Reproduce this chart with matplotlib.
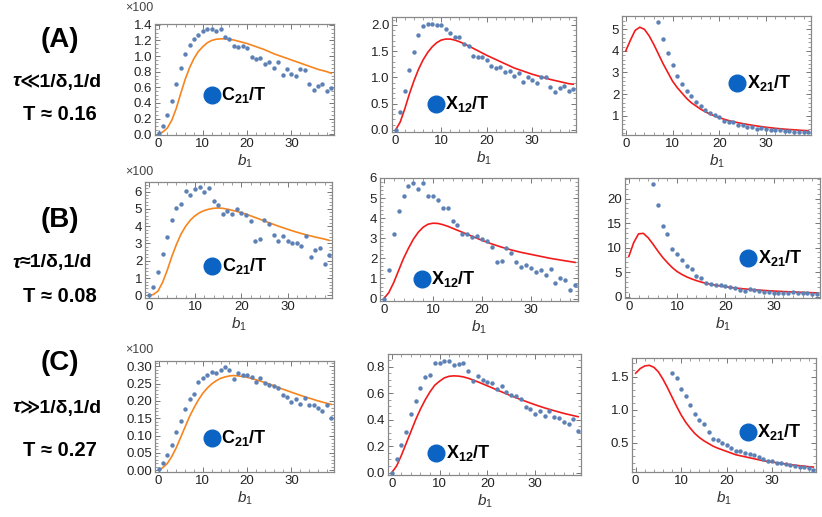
import numpy as np
import matplotlib
matplotlib.use("Agg")
import matplotlib.pyplot as plt
from matplotlib.ticker import MultipleLocator, AutoMinorLocator, FormatStrFormatter

plt.rcParams['font.family'] = ['Liberation Sans', 'DejaVu Sans']
plt.rcParams['mathtext.fontset'] = 'custom'
plt.rcParams['mathtext.rm'] = 'Liberation Sans'
plt.rcParams['mathtext.it'] = 'Liberation Sans:italic'
plt.rcParams['mathtext.bf'] = 'Liberation Sans:bold'

# ---- data ----
b1 = list(range(40))
curve_b1 = list(range(19)) + [20, 22, 24, 26, 28, 30, 32, 34, 36, 38, 39]

# row A
c21_A = [0.02, 0.11, 0.25, 0.43, 0.64, 0.85, 1.02, 1.14, 1.22, 1.27, 1.32, 1.34, 1.34, 1.32, 1.34,
         1.25, 1.22, 1.13, 1.12, 1.13, 1.10, 0.99, 0.96, 0.98, 0.90, 0.93, 0.85, 0.92, 0.76, 0.83,
         0.77, 0.74, 0.83, 0.82, 0.64, 0.56, 0.62, 0.64, 0.55, 0.59]
c21_A_fit = [0.0, 0.03, 0.08, 0.18, 0.33, 0.52, 0.70, 0.85, 0.97, 1.06, 1.12, 1.17, 1.20, 1.215, 1.22,
             1.22, 1.215, 1.205, 1.19, 1.16, 1.12, 1.08, 1.03, 0.99, 0.95, 0.91, 0.87, 0.83, 0.80, 0.78]
x12_A = [0.0, 0.34, 0.74, 1.14, 1.49, 1.80, 1.97, 2.01, 2.02, 1.99, 1.99, 1.92, 1.84, 1.77, 1.77,
         1.63, 1.59, 1.41, 1.38, 1.38, 1.33, 1.21, 1.17, 1.19, 1.10, 1.13, 1.03, 1.08, 0.92, 1.00,
         0.95, 0.90, 1.00, 1.00, 0.81, 0.72, 0.79, 0.83, 0.74, 0.77]
x12_A_fit = [0.0, 0.15, 0.40, 0.68, 0.93, 1.15, 1.33, 1.47, 1.58, 1.66, 1.71, 1.73, 1.73, 1.71, 1.68,
             1.64, 1.60, 1.555, 1.51, 1.42, 1.34, 1.26, 1.18, 1.12, 1.06, 1.01, 0.96, 0.92, 0.88, 0.87]
x21_A_b1 = list(range(7, 40))
x21_A = [5.32, 4.55, 3.89, 3.33, 2.84, 2.45, 2.16, 1.93, 1.65, 1.45, 1.25, 1.14, 1.05, 0.93, 0.77,
         0.69, 0.68, 0.58, 0.57, 0.47, 0.49, 0.38, 0.43, 0.38, 0.35, 0.35, 0.32, 0.29, 0.29, 0.26,
         0.24, 0.23, 0.24]
x21_A_fit = [4.0, 4.5, 4.95, 5.1, 5.0, 4.7, 4.3, 3.85, 3.4, 3.0, 2.6, 2.3, 2.05, 1.8, 1.6,
             1.45, 1.3, 1.18, 1.07, 0.9, 0.77, 0.67, 0.59, 0.52, 0.46, 0.41, 0.37, 0.34, 0.31, 0.30]

# row B
c21_B = [0.0, 0.46, 1.33, 2.40, 3.37, 4.35, 5.05, 5.26, 6.02, 5.78, 6.13, 6.25, 5.98, 6.19, 5.45,
         5.22, 4.68, 4.87, 4.72, 4.97, 4.76, 4.66, 4.29, 3.15, 3.25, 4.35, 4.10, 3.46, 3.13, 3.42,
         3.17, 3.02, 3.04, 2.88, 3.42, 2.22, 2.63, 2.71, 1.84, 2.34]
c21_B_fit = [0.0, 0.05, 0.25, 0.75, 1.45, 2.25, 2.95, 3.55, 4.0, 4.35, 4.6, 4.78, 4.9, 4.98, 5.03,
             5.05, 5.03, 4.98, 4.92, 4.78, 4.6, 4.4, 4.2, 4.0, 3.82, 3.65, 3.5, 3.37, 3.25, 3.18]
x12_B = [0.0, 1.40, 3.20, 4.38, 5.08, 5.60, 5.73, 5.45, 5.73, 5.12, 5.08, 4.93, 4.52, 4.52, 3.87,
         3.67, 3.20, 3.23, 3.08, 3.13, 2.97, 2.87, 2.57, 1.82, 1.85, 2.50, 2.27, 1.82, 1.57, 1.68,
         1.50, 1.33, 1.40, 1.18, 1.45, 0.80, 1.02, 0.92, 0.43, 0.67]
x12_B_fit = [0.0, 0.3, 0.8, 1.4, 2.0, 2.5, 2.95, 3.3, 3.55, 3.7, 3.75, 3.74, 3.68, 3.6, 3.5,
             3.4, 3.3, 3.2, 3.1, 2.9, 2.72, 2.56, 2.42, 2.3, 2.2, 2.1, 2.0, 1.92, 1.84, 1.8]
x21_B_b1 = list(range(5, 40))
x21_B = [23.07, 18.6, 14.47, 12.8, 9.73, 8.6, 7.53, 6.2, 5.53, 4.2, 3.73, 2.8, 2.53, 2.33, 2.33,
         2.2, 2.0, 1.73, 1.27, 1.2, 1.53, 1.4, 1.07, 0.87, 0.93, 0.73, 0.73, 0.73, 0.73, 0.93,
         0.67, 0.67, 0.73, 0.47, 0.53]
x21_B_fit = [8.2, 11.0, 12.8, 12.9, 12.0, 10.7, 9.3, 8.0, 6.9, 5.9, 5.1, 4.5, 4.0, 3.6, 3.25,
             2.95, 2.7, 2.5, 2.3, 2.0, 1.75, 1.55, 1.38, 1.24, 1.12, 1.02, 0.93, 0.85, 0.78, 0.75]

# row C
c21_C = [0.003, 0.021, 0.045, 0.072, 0.110, 0.142, 0.176, 0.205, 0.221, 0.255, 0.266, 0.276, 0.282,
         0.281, 0.289, 0.298, 0.288, 0.263, 0.279, 0.274, 0.274, 0.269, 0.255, 0.267, 0.253, 0.247,
         0.242, 0.238, 0.218, 0.210, 0.197, 0.206, 0.190, 0.207, 0.188, 0.189, 0.180, 0.170, 0.189,
         0.150]
c21_C_fit = [0.0, 0.008, 0.02, 0.04, 0.065, 0.095, 0.125, 0.155, 0.18, 0.203, 0.222, 0.237, 0.249,
             0.258, 0.265, 0.269, 0.272, 0.273, 0.272, 0.268, 0.261, 0.253, 0.244, 0.234, 0.225,
             0.216, 0.208, 0.2, 0.193, 0.19]
x12_C = [0.0, 0.10, 0.21, 0.31, 0.44, 0.54, 0.64, 0.72, 0.74, 0.825, 0.83, 0.845, 0.84, 0.81, 0.82,
         0.825, 0.77, 0.69, 0.727, 0.70, 0.687, 0.674, 0.631, 0.657, 0.611, 0.584, 0.579, 0.559,
         0.498, 0.478, 0.443, 0.468, 0.43, 0.465, 0.418, 0.415, 0.385, 0.367, 0.408, 0.314]
x12_C_fit = [0.0, 0.05, 0.13, 0.22, 0.31, 0.4, 0.48, 0.55, 0.61, 0.66, 0.69, 0.715, 0.727, 0.73,
             0.728, 0.722, 0.712, 0.699, 0.685, 0.655, 0.624, 0.594, 0.565, 0.538, 0.512, 0.488,
             0.467, 0.447, 0.43, 0.422]
x21_C_b1 = list(range(8, 40))
x21_C = [1.55, 1.485, 1.31, 1.2, 1.07, 0.93, 0.85, 0.79, 0.66, 0.56, 0.55, 0.50, 0.46, 0.42, 0.38,
         0.38, 0.35, 0.33, 0.31, 0.29, 0.26, 0.23, 0.22, 0.20, 0.20, 0.18, 0.17, 0.15, 0.14, 0.13,
         0.12, 0.09]
x21_C_fit = [1.55, 1.62, 1.66, 1.67, 1.64, 1.57, 1.46, 1.33, 1.19, 1.05, 0.92, 0.81, 0.72, 0.64,
             0.58, 0.53, 0.49, 0.45, 0.42, 0.37, 0.32, 0.29, 0.26, 0.23, 0.21, 0.19, 0.17, 0.155,
             0.14, 0.135]

row_labels = ["(A)", "(B)", "(C)"]
regime_rel = ["≪1/δ,1/d", "≈1/δ,1/d", "≫1/δ,1/d"]
temps = ["T ≈ 0.16", "T ≈ 0.08", "T ≈ 0.27"]

DOT = "#5E81B5"
ORANGE = "#F7851E"
RED = "#F21B1B"
BIG = "#0B63C4"

W, H = 822, 517
fig = plt.figure(figsize=(W / 100, H / 100), dpi=100)


def panel(box, xs, ys, fx, fy, fcolor, ylim, ymaj, fmt, name, lpos, scale_y=None):
    x0, x1, yt, yb = box
    ax = fig.add_axes([x0 / W, 1 - yb / H, (x1 - x0) / W, (yb - yt) / H])
    ax.plot(fx, fy, color=fcolor, lw=1.2, zorder=2)
    ax.plot(xs, ys, 'o', color=DOT, ms=3.2, mec='none', zorder=3)
    ax.set_xlim(-0.8, 39.6)
    ax.set_ylim(*ylim)
    ax.xaxis.set_major_locator(MultipleLocator(10))
    ax.xaxis.set_minor_locator(MultipleLocator(2))
    ax.yaxis.set_major_locator(MultipleLocator(ymaj))
    ax.yaxis.set_minor_locator(AutoMinorLocator())
    ax.yaxis.set_major_formatter(FormatStrFormatter(fmt))
    ax.tick_params(which='both', direction='in', top=True, right=True, colors='#777777',
                   labelcolor='#222222', labelsize=9.5, pad=2)
    ax.tick_params(which='major', length=3.5, width=0.7)
    ax.tick_params(which='minor', length=2, width=0.5)
    for s in ax.spines.values():
        s.set_color('#888888')
        s.set_linewidth(0.9)
    ax.set_xlabel(r"$b_1$", fontsize=11, color='#333333', labelpad=2)
    ax.plot([lpos[0]], [lpos[1]], 'o', color=BIG, ms=12, transform=ax.transAxes,
            clip_on=False, zorder=4)
    ax.text(lpos[0] + 0.05, lpos[1], name, transform=ax.transAxes, fontsize=13,
            va='center', ha='left', color='black', zorder=4)
    if scale_y is not None:
        fig.text(153 / W, 1 - scale_y / H, "×100", fontsize=9, color='#444444',
                 ha='right', va='center')
    return ax


# row A
panel((155, 334, 24, 135), b1, c21_A, curve_b1, c21_A_fit, ORANGE, (-0.01, 1.41), 0.2, "%.1f",
      r"$\mathbf{C_{21}/T}$", (0.32, 0.36), scale_y=8)
panel((392, 576, 17, 132), b1, x12_A, curve_b1, x12_A_fit, RED, (-0.04, 2.15), 0.5, "%.1f",
      r"$\mathbf{X_{12}/T}$", (0.24, 0.24))
panel((622, 811, 16, 135), x21_A_b1, x21_A, curve_b1, x21_A_fit, RED, (0.1, 5.62), 1, "%d",
      r"$\mathbf{X_{21}/T}$", (0.61, 0.44))

# row B
panel((145, 332, 182, 298), b1, c21_B, curve_b1, c21_B_fit, ORANGE, (-0.15, 6.55), 1, "%d",
      r"$\mathbf{C_{21}/T}$", (0.36, 0.28), scale_y=172)
panel((380, 578, 178, 301), b1, x12_B, curve_b1, x12_B_fit, RED, (-0.12, 6.0), 1, "%d",
      r"$\mathbf{X_{12}/T}$", (0.21, 0.18))
panel((625, 820, 178, 298), x21_B_b1, x21_B, curve_b1, x21_B_fit, RED, (-0.3, 24.2), 5, "%d",
      r"$\mathbf{X_{21}/T}$", (0.63, 0.33))

# row C
panel((155, 334, 361, 472), b1, c21_C, curve_b1, c21_C_fit, ORANGE, (-0.005, 0.315), 0.05, "%.2f",
      r"$\mathbf{C_{21}/T}$", (0.32, 0.31), scale_y=350)
panel((388, 581, 354, 475), b1, x12_C, curve_b1, x12_C_fit, RED, (-0.018, 0.895), 0.2, "%.1f",
      r"$\mathbf{X_{12}/T}$", (0.25, 0.18))
panel((632, 816, 358, 472), x21_C_b1, x21_C, curve_b1, x21_C_fit, RED, (0.06, 1.78), 0.5, "%.1f",
      r"$\mathbf{X_{21}/T}$", (0.63, 0.35))

# left side labels
row_y = [(40, 82, 114), (220, 263, 297), (363, 408, 450)]
for lab, rel, t, (ya, yb_, yc) in zip(row_labels, regime_rel, temps, row_y):
    fig.text(60 / W, 1 - ya / H, lab, fontsize=20, fontweight='bold', ha='center', va='center')
    fig.text(20 / W, 1 - yb_ / H, "τ", fontsize=14, fontweight='bold', style='italic',
             ha='right', va='center')
    fig.text(20 / W, 1 - yb_ / H, rel, fontsize=14, fontweight='bold', ha='left', va='center')
    fig.text(60 / W, 1 - yc / H, t, fontsize=14.5, fontweight='bold', ha='center', va='center')

fig.savefig("out.png", dpi=100)
